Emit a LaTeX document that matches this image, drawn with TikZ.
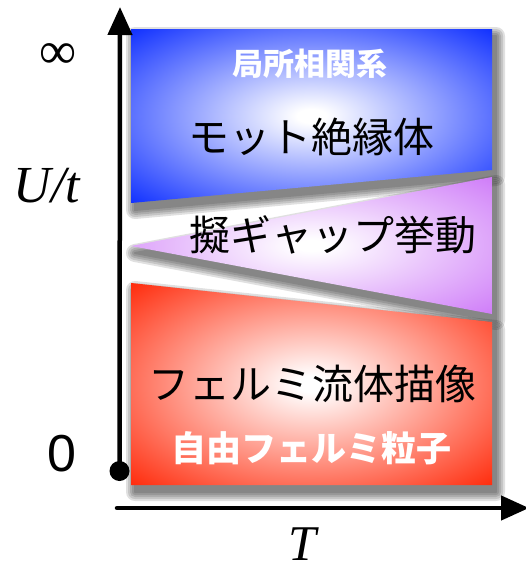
\documentclass[tikz,border=0pt]{standalone}
\usepackage{fontspec}
\newfontfamily\jp{Noto Sans CJK JP}
\newfontfamily\tms{Liberation Serif}
\newfontfamily\hlv{Liberation Sans}
\usetikzlibrary{arrows.meta}
\definecolor{mblue}{RGB}{12,45,255}
\definecolor{mpurple}{RGB}{206,122,248}
\definecolor{mred}{RGB}{255,40,8}
\pgfdeclareradialshading{blueglow}{\pgfpoint{0bp}{0bp}}{color(0bp)=(white); color(2bp)=(white); color(36bp)=(mblue); color(72bp)=(mblue)}
\pgfdeclareradialshading{purpleglow}{\pgfpoint{0bp}{0bp}}{color(0bp)=(white); color(2bp)=(white); color(36bp)=(mpurple); color(72bp)=(mpurple)}
\pgfdeclareradialshading{redglow}{\pgfpoint{0bp}{0bp}}{color(0bp)=(white); color(2bp)=(white); color(36bp)=(mred); color(72bp)=(mred)}
\tikzset{
  shadowlayer/.style={fill=black, draw=black, line join=round, line width=#1},
  bigjp/.style={anchor=base, inner sep=0pt, font=\jp\fontsize{41}{41}\selectfont, text=black},
  boldjp/.style={anchor=base, inner sep=0pt, font=\jp\bfseries\fontsize{#1}{#1}\selectfont, text=white},
  latin/.style={anchor=base, inner sep=0pt, font=#1\fontsize{52}{52}\selectfont},
  axisline/.style={line width=4.5pt, -{Triangle[length=28pt,width=24pt]}},
}
\begin{document}
\begin{tikzpicture}[x=1pt,y=-1pt]
\useasboundingbox (0,0) rectangle (526,570);
% shadows
\foreach \w in {18,14,10,6,2}{
  \begin{scope}[xshift=4pt, yshift=-7pt, transparency group, opacity=0.12]
    \filldraw[shadowlayer=\w pt] (131,29) -- (492,29) -- (492,170) -- (131,203) -- cycle;
  \end{scope}
}
\shade[shading=blueglow] (131,29) -- (492,29) -- (492,170) -- (131,203) -- cycle;
\foreach \w in {18,14,10,6,2}{
  \begin{scope}[xshift=4pt, yshift=-7pt, transparency group, opacity=0.12]
    \filldraw[shadowlayer=\w pt] (131,246) -- (492,177) -- (492,314) -- cycle;
  \end{scope}
}
\shade[shading=purpleglow] (131,246) -- (492,177) -- (492,314) -- cycle;
\foreach \w in {18,14,10,6,2}{
  \begin{scope}[xshift=4pt, yshift=-7pt, transparency group, opacity=0.12]
    \filldraw[shadowlayer=\w pt] (131,283) -- (492,322) -- (492,485) -- (131,485) -- cycle;
  \end{scope}
}
\shade[shading=redglow] (131,283) -- (492,322) -- (492,485) -- (131,485) -- cycle;
% texts
\node[boldjp=31] (lc) at (310,75) {局所相関系};
\node[bigjp] (mott) at (311,152) {モット絶縁体};
\node[bigjp] (pg) at (333,250) {擬ギャップ挙動};
\node[bigjp] (fl) at (312,399) {フェルミ流体描像};
\node[boldjp=35] (ff) at (311,461) {自由フェルミ粒子};
\node[latin=\tms] (inf) at (58,68) {∞};
\node[latin=\tms\itshape] (ut) at (47,202) {U/t};
\node[latin=\hlv] (zero) at (62,471) {0};
\node[anchor=base, inner sep=0pt, font=\tms\itshape\fontsize{50}{50}\selectfont] (tt) at (302,560) {T};
% axes
\node[circle, fill=black, inner sep=0pt, minimum size=20pt] (o) at (119.5,471) {};
\coordinate (ytop) at (120,7);
\coordinate (xs) at (117,508);
\coordinate (xe) at (529,508);
\draw[axisline] (o.center) -- (ytop);
\draw[axisline, line cap=round] (xs) -- (xe);
\end{tikzpicture}
\end{document}
